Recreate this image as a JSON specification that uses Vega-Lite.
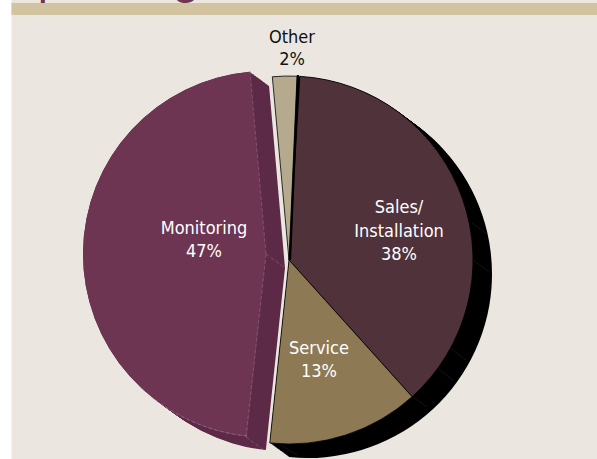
{
"$schema":"https://vega.github.io/schema/vega-lite/v6.json",
"width":597,"height":459,"padding":0,"autosize":{"type":"none"},
"background":"#ffffff",
"view":{"stroke":null},
"datasets":{
"labels":[
{"line":"Other","px":292,"py":38,"c":"#111111"},{"line":"2%","px":292,"py":60,"c":"#111111"},
{"line":"Sales/","px":399,"py":208,"c":"#ffffff"},{"line":"Installation","px":399,"py":232,"c":"#ffffff"},{"line":"38%","px":399,"py":255,"c":"#ffffff"},
{"line":"Service","px":319,"py":349,"c":"#ffffff"},{"line":"13%","px":319,"py":372,"c":"#ffffff"},
{"line":"Monitoring","px":204,"py":229,"c":"#ffffff"},{"line":"47%","px":204,"py":252,"c":"#ffffff"}
],
"panel":[{"x0":11.5,"x1":597,"y0":0,"y1":459,"c":"#ebe7e0"},{"x0":11.5,"x1":597,"y0":3,"y1":15,"c":"#d2c4a1"}],
"wall":[{"cx":266,"cy":254},{"cx":267,"cy":254.7},{"cx":268,"cy":255.5},{"cx":269,"cy":256.2},{"cx":270,"cy":256.9},{"cx":271,"cy":257.7},{"cx":272,"cy":258.4},{"cx":273,"cy":259.2},{"cx":274,"cy":259.9},{"cx":275,"cy":260.6},{"cx":276,"cy":261.4},{"cx":277,"cy":262.1},{"cx":278,"cy":262.8},{"cx":279,"cy":263.6},{"cx":280,"cy":264.3},{"cx":281,"cy":265.1},{"cx":282,"cy":265.8},{"cx":283,"cy":266.5},{"cx":284,"cy":267.3},{"cx":285,"cy":268}],
"shadow":[{"cx":289,"cy":260},{"cx":290,"cy":260.7},{"cx":291,"cy":261.5},{"cx":292,"cy":262.2},{"cx":293,"cy":262.9},{"cx":294,"cy":263.7},{"cx":295,"cy":264.4},{"cx":296,"cy":265.2},{"cx":297,"cy":265.9},{"cx":298,"cy":266.6},{"cx":299,"cy":267.4},{"cx":300,"cy":268.1},{"cx":301,"cy":268.8},{"cx":302,"cy":269.6},{"cx":303,"cy":270.3},{"cx":304,"cy":271.1},{"cx":305,"cy":271.8},{"cx":306,"cy":272.5},{"cx":307,"cy":273.3},{"cx":308,"cy":274}],
"seams":[{"a":472,"b":223,"e":487,"f":234},{"a":473,"b":260,"e":489,"f":272},{"a":450,"b":348,"e":466,"f":360},{"a":437,"b":368,"e":453,"f":380},{"a":410,"b":395,"e":427,"f":407},{"a":278,"b":443,"e":297,"f":455}],
"edges":[{"a":266,"b":254,"e":250,"f":71},{"a":266,"b":254,"e":246,"f":437},{"a":266,"b":254,"e":285,"f":268},{"a":246,"b":437,"e":265,"f":451}]
},
"layer":[
{"data":{"name":"panel"},"mark":{"type":"rect"},"encoding":{"x":{"field":"x0","type":"quantitative","scale":{"domain":[0,597],"range":[0,597]},"axis":null},"x2":{"field":"x1"},"y":{"field":"y0","type":"quantitative","scale":{"domain":[0,459],"range":[0,459]},"axis":null},"y2":{"field":"y1"},"color":{"field":"c","type":"nominal","scale":null}}},
{"data":{"values":[{"t":"Operating","px":3,"py":-5}]},"mark":{"type":"text","font":"Lato","fontSize":44,"align":"left","baseline":"alphabetic","color":"#6e3552"},"encoding":{"x":{"field":"px","type":"quantitative","scale":{"domain":[0,597],"range":[0,597]},"axis":null},"y":{"field":"py","type":"quantitative","scale":{"domain":[0,459],"range":[0,459]},"axis":null},"text":{"field":"t"}}},
{"data":{"name":"shadow"},"transform":[{"calculate":"2.5","as":"a"},{"calculate":"186","as":"b"}],"mark":{"type":"arc","fill":"#000000","radius":184},"encoding":{"x":{"field":"cx","type":"quantitative","scale":{"domain":[0,597],"range":[0,597]},"axis":null},"y":{"field":"cy","type":"quantitative","scale":{"domain":[0,459],"range":[0,459]},"axis":null},"theta":{"field":"a","type":"quantitative","scale":{"domain":[0,360],"range":[0,6.2832]}},"theta2":{"field":"b"}}},
{"data":{"name":"seams"},"mark":{"type":"rule","color":"#1c1c1c","strokeWidth":0.7},"encoding":{"x":{"field":"a","type":"quantitative","scale":{"domain":[0,597],"range":[0,597]},"axis":null},"x2":{"field":"e"},"y":{"field":"b","type":"quantitative","scale":{"domain":[0,459],"range":[0,459]},"axis":null},"y2":{"field":"f"}}},
{"data":{"name":"wall"},"transform":[{"calculate":"186","as":"a"},{"calculate":"355","as":"b"}],"mark":{"type":"arc","fill":"#5c2a47","radius":183},"encoding":{"x":{"field":"cx","type":"quantitative","scale":{"domain":[0,597],"range":[0,597]},"axis":null},"y":{"field":"cy","type":"quantitative","scale":{"domain":[0,459],"range":[0,459]},"axis":null},"theta":{"field":"a","type":"quantitative","scale":{"domain":[0,360],"range":[0,6.2832]}},"theta2":{"field":"b"}}},
{"data":{"values":[{"a":186,"b":355}]},"mark":{"type":"arc","fill":"#6e3552","radius":183},"encoding":{"x":{"datum":266,"type":"quantitative","scale":{"domain":[0,597],"range":[0,597]},"axis":null},"y":{"datum":254,"type":"quantitative","scale":{"domain":[0,459],"range":[0,459]},"axis":null},"theta":{"field":"a","type":"quantitative","scale":{"domain":[0,360],"range":[0,6.2832]}},"theta2":{"field":"b"}}},
{"data":{"values":[{"a":186,"b":224}]},"mark":{"type":"arc","fill":null,"radius":183,"radius2":183,"stroke":"#a5809a","strokeWidth":0.6,"strokeOpacity":0.7,"strokeDash":[4,2]},"encoding":{"x":{"datum":266,"type":"quantitative","scale":{"domain":[0,597],"range":[0,597]},"axis":null},"y":{"datum":254,"type":"quantitative","scale":{"domain":[0,459],"range":[0,459]},"axis":null},"theta":{"field":"a","type":"quantitative","scale":{"domain":[0,360],"range":[0,6.2832]}},"theta2":{"field":"b"}}},
{"data":{"name":"edges"},"mark":{"type":"rule","color":"#a5809a","strokeWidth":0.6,"opacity":0.7,"strokeDash":[4,2]},"encoding":{"x":{"field":"a","type":"quantitative","scale":{"domain":[0,597],"range":[0,597]},"axis":null},"x2":{"field":"e"},"y":{"field":"b","type":"quantitative","scale":{"domain":[0,459],"range":[0,459]},"axis":null},"y2":{"field":"f"}}},
{"data":{"values":[{"a":3.4,"b":138,"c":"#50323a"},{"a":138,"b":186,"c":"#8d7a55"},{"a":354.8,"b":362.5,"c":"#b5aa8d"}]},"mark":{"type":"arc","radius":184,"stroke":"#000000","strokeWidth":0.8},"encoding":{"x":{"datum":289,"type":"quantitative","scale":{"domain":[0,597],"range":[0,597]},"axis":null},"y":{"datum":260,"type":"quantitative","scale":{"domain":[0,459],"range":[0,459]},"axis":null},"theta":{"field":"a","type":"quantitative","scale":{"domain":[0,360],"range":[0,6.2832]}},"theta2":{"field":"b"},"color":{"field":"c","type":"nominal","scale":null}}},
{"data":{"values":[{"a":290,"b":260,"e":298,"f":75}]},"mark":{"type":"rule","color":"#000000","strokeWidth":2.2},"encoding":{"x":{"field":"a","type":"quantitative","scale":{"domain":[0,597],"range":[0,597]},"axis":null},"x2":{"field":"e"},"y":{"field":"b","type":"quantitative","scale":{"domain":[0,459],"range":[0,459]},"axis":null},"y2":{"field":"f"}}},
{"data":{"name":"labels"},"mark":{"type":"text","font":"DejaVu Sans Condensed","fontSize":18,"align":"center","baseline":"middle"},"encoding":{"x":{"field":"px","type":"quantitative","scale":{"domain":[0,597],"range":[0,597]},"axis":null},"y":{"field":"py","type":"quantitative","scale":{"domain":[0,459],"range":[0,459]},"axis":null},"text":{"field":"line"},"color":{"field":"c","type":"nominal","scale":null}}}
]
}
